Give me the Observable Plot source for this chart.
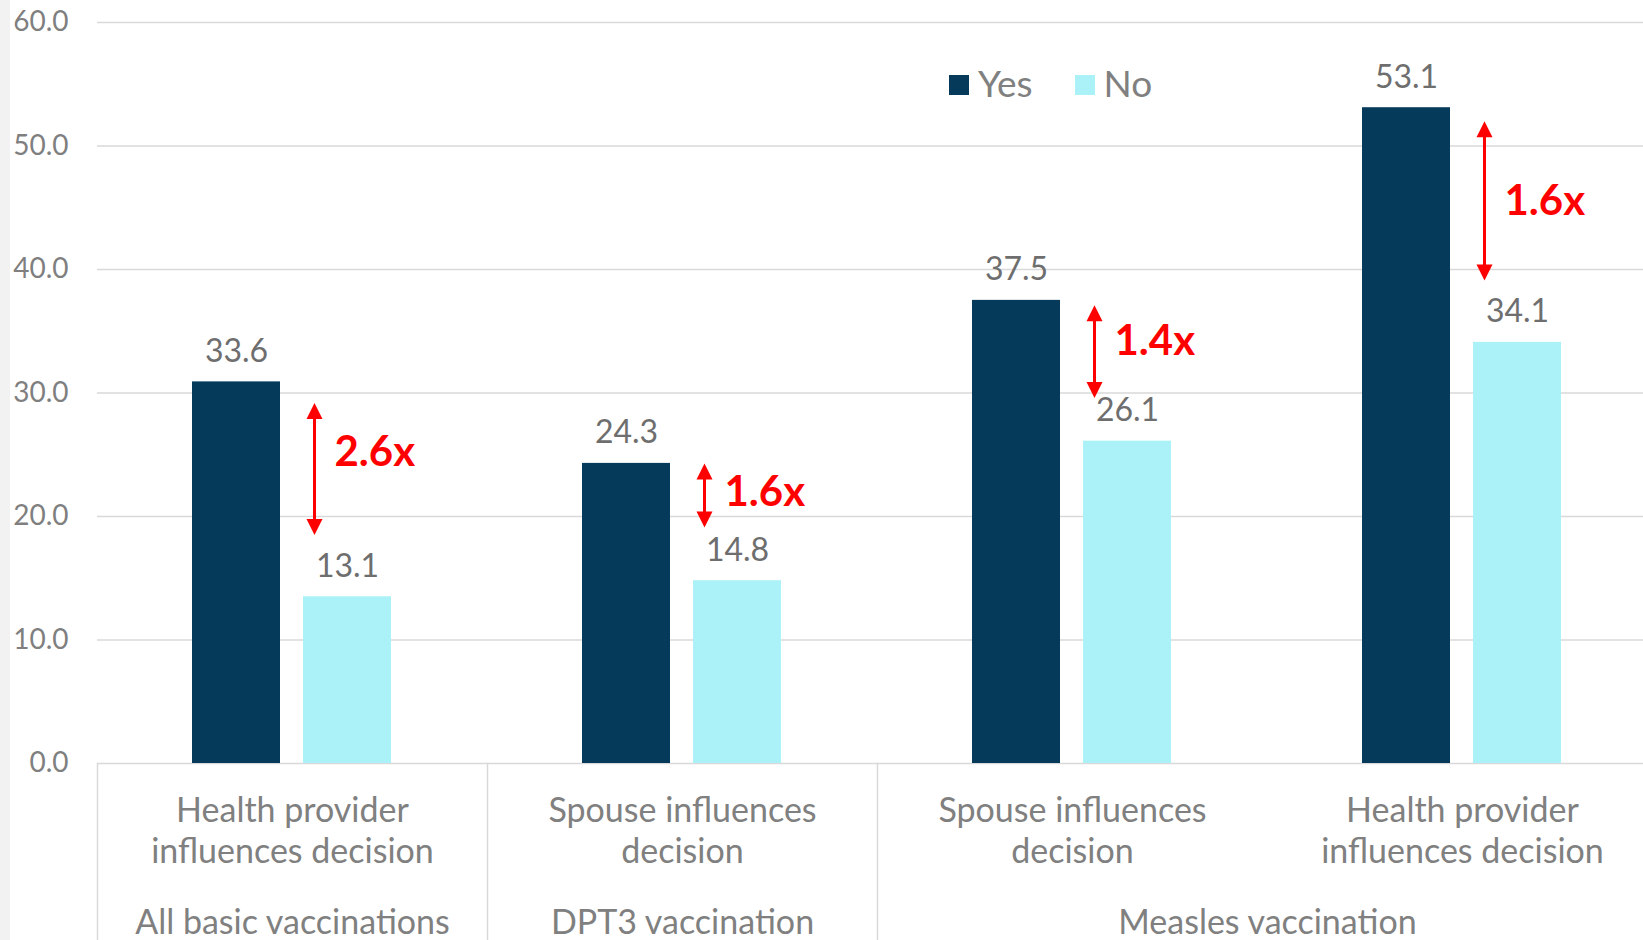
<!DOCTYPE html>
<html>
<head>
<meta charset="utf-8">
<script src="https://cdn.jsdelivr.net/npm/d3@7"></script>
<script src="https://cdn.jsdelivr.net/npm/@observablehq/plot@0.6"></script>
<style>
  html, body { margin: 0; padding: 0; background: #fff; overflow: hidden; }
  #wrap { position: relative; width: 1643px; height: 940px; }
  #strip { position: absolute; left: 0; top: 0; width: 10px; height: 940px; background: #f2f2f2; }
  #legend { position: absolute; left: 949px; top: 61px; }
  #legend .lg-swatches { font-family: Lato, sans-serif; font-size: 37px; color: #808080; line-height: 44px; margin: 0; min-height: 0; }
  #legend .lg-swatch { margin-right: 42px; }
  #legend .lg-swatch > svg { margin-right: 9px; position: relative; top: 2px; }
</style>
</head>
<body>
<div id="wrap"><div id="chart"></div><div id="strip"></div><div id="legend"></div></div>
<script>
// ---- data ----
const groups = ["All basic vaccinations", "DPT3 vaccination", "Measles vaccination", "Measles vaccination"];
const categories = ["Health provider\ninfluences decision", "Spouse influences\ndecision", "Spouse influences\ndecision", "Health provider\ninfluences decision"];
const series = ["Yes", "No"];
const yesValues = [30.9, 24.3, 37.5, 53.1];
const noValues = [13.5, 14.8, 26.1, 34.1];
const yesLabels = ["33.6", "24.3", "37.5", "53.1"];
const noLabels = ["13.1", "14.8", "26.1", "34.1"];
const ratioLabels = ["2.6x", "1.6x", "1.4x", "1.6x"];
const arrowTop = [29.2, 24.3, 37.1, 52.0];
const arrowBottom = [18.5, 19.1, 29.6, 39.1];
const ratioY = [25.2, 21.9, 34.2, 45.5];
const yTicks = [0, 10, 20, 30, 40, 50, 60];

// ---- derived tables ----
const colors = ["#063a5b", "#aaf2f8"];
const ids = groups.map((g, i) => g + "|" + i);
const rows = ids.flatMap((id, i) => [
  {id, series: "Yes", value: yesValues[i], label: yesLabels[i]},
  {id, series: "No", value: noValues[i], label: noLabels[i]}
]);
const annos = ids.map((id, i) => ({id, top: arrowTop[i], bottom: arrowBottom[i], y: ratioY[i], text: ratioLabels[i]}));
const spans = [];
groups.forEach((g, i) => {
  if (i > 0 && groups[i - 1] === g) spans[spans.length - 1].n++;
  else spans.push({id: ids[i], name: g, n: 1});
});
const sepIds = spans.map(s => s.id);

const headUp = {draw(ctx) { ctx.moveTo(0, 0); ctx.lineTo(-8, 16); ctx.lineTo(8, 16); ctx.closePath(); }};
const headDown = {draw(ctx) { ctx.moveTo(0, 0); ctx.lineTo(-8, -16); ctx.lineTo(8, -16); ctx.closePath(); }};
const arrowDx = -33;
const red = "#ff0000";

const chart = Plot.plot({
  width: 1643,
  height: 940,
  marginLeft: 97,
  marginRight: 0,
  marginTop: 22,
  marginBottom: 177,
  style: {fontFamily: "Lato, sans-serif", background: "transparent", color: "#7f7f7f", overflow: "visible"},
  fx: {domain: ids, range: [97, 1657], padding: 0, axis: null},
  x: {domain: series, paddingInner: 0.207, paddingOuter: 0.86, axis: null},
  y: {domain: [0, 60], label: null},
  color: {domain: series, range: colors},
  marks: [
    Plot.gridY(yTicks, {stroke: "#d9d9d9", strokeOpacity: 1, strokeWidth: 1.5}),
    Plot.axisY(yTicks, {tickFormat: d3.format(".1f"), tickSize: 0, tickPadding: 29, fontSize: 28, fill: "#7f7f7f", label: null}),
    ...sepIds.map(id => Plot.frame({fx: id, anchor: "left", insetTop: 741, insetBottom: -177, stroke: "#d9d9d9", strokeWidth: 1.5})),
    Plot.barY(rows, {fx: "id", x: "series", y: "value", fill: "series"}),
    Plot.text(rows, {fx: "id", x: "series", y: "value", text: "label", lineAnchor: "bottom", dy: -20, fontSize: 32, fill: "#6e6e6e"}),
    Plot.text(ids, {fx: d => d, text: (d, i) => categories[i], frameAnchor: "bottom", lineAnchor: "top", dy: 29, fontSize: 34, lineHeight: 1.22, fill: "#808080"}),
    Plot.text(spans.filter(s => s.n === 1), {fx: "id", text: "name", frameAnchor: "bottom", lineAnchor: "bottom", dy: 170, fontSize: 34, fill: "#808080"}),
    Plot.text(spans.filter(s => s.n > 1), {fx: "id", text: "name", frameAnchor: "bottom-right", textAnchor: "middle", lineAnchor: "bottom", dy: 170, fontSize: 34, fill: "#808080"}),
    Plot.ruleX(annos, {fx: "id", x: () => "No", y1: "top", y2: "bottom", dx: arrowDx, stroke: red, strokeWidth: 3, insetTop: 10, insetBottom: 10}),
    Plot.dot(annos, {fx: "id", x: () => "No", y: "top", dx: arrowDx, symbol: headUp, fill: red, stroke: "none"}),
    Plot.dot(annos, {fx: "id", x: () => "No", y: "bottom", dx: arrowDx, symbol: headDown, fill: red, stroke: "none"}),
    Plot.text(annos, {fx: "id", x: () => "No", y: "y", text: "text", dx: arrowDx + 20, textAnchor: "start", fontSize: 42, fontWeight: "bold", fill: red})
  ]
});
document.getElementById("chart").appendChild(chart);

const legend = Plot.legend({color: {domain: series, range: colors}, legend: "swatches", swatchSize: 20, className: "lg"});
document.getElementById("legend").appendChild(legend);
</script>
</body>
</html>
